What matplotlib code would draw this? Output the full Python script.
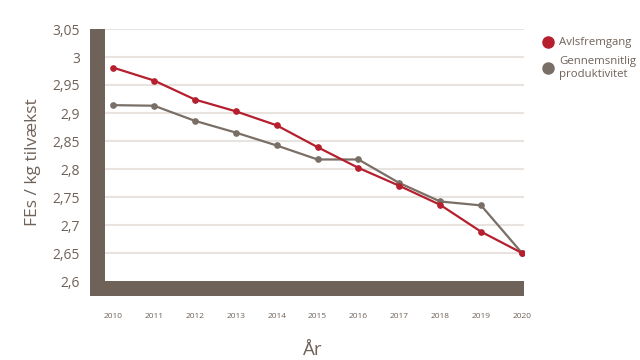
import matplotlib
matplotlib.use("Agg")
import matplotlib.pyplot as plt
from matplotlib.lines import Line2D
from matplotlib.patches import Rectangle

plt.rcParams['font.family'] = ['Open Sans', 'DejaVu Sans']

# data
years = [2010, 2011, 2012, 2013, 2014, 2015, 2016, 2017, 2018, 2019, 2020]
avlsfremgang = [2.981, 2.958, 2.924, 2.903, 2.878, 2.839, 2.802, 2.770, 2.736, 2.688, 2.650]
produktivitet = [2.914, 2.913, 2.886, 2.865, 2.842, 2.817, 2.817, 2.775, 2.742, 2.735, 2.650]
y_ticks = [2.6, 2.65, 2.7, 2.75, 2.8, 2.85, 2.9, 2.95, 3.0, 3.05]
y_labels = ["2,6", "2,65", "2,7", "2,75", "2,8", "2,85", "2,9", "2,95", "3", "3,05"]

BROWN = "#6f6259"
GRAY = "#7a6f67"
RED = "#b51f2e"
GRID = "#e8e3de"

W, H = 640, 360
fig = plt.figure(figsize=(6.4, 3.6), dpi=100)


def fx(px):
    return px / W


def fy(py):
    return 1 - py / H


ax = fig.add_axes([fx(105), fy(281), fx(524) - fx(105), fy(29) - fy(281)])
ax.set_xlim(2009.8, 2020.05)
ax.set_ylim(2.6, 3.047)

for t in y_ticks[1:]:
    ax.axhline(t, color=GRID, lw=1.5, zorder=0)

ax.plot(years, produktivitet, color=GRAY, lw=1.6, marker="o", ms=3.8, zorder=3)
ax.plot(years, avlsfremgang, color=RED, lw=1.6, marker="o", ms=3.8, zorder=4)

ax.set_xticks(years)
ax.set_xticklabels([str(y) for y in years], fontsize=6, color=BROWN)
ax.set_yticks(y_ticks)
ax.set_yticklabels(y_labels, fontsize=10, color=BROWN)
ax.tick_params(axis="both", length=0)
ax.tick_params(axis="x", pad=23)
ax.tick_params(axis="y", pad=18)
for s in ax.spines.values():
    s.set_visible(False)

# thick brown axis bars
fig.add_artist(Rectangle((fx(90), fy(296)), fx(105) - fx(90), fy(29) - fy(296),
                         transform=fig.transFigure, color=BROWN, lw=0))
fig.add_artist(Rectangle((fx(90), fy(296)), fx(524) - fx(90), fy(281) - fy(296),
                         transform=fig.transFigure, color=BROWN, lw=0))

fig.text(fx(33), fy(162), "FEs / kg tilvækst", rotation=90, ha="center", va="center",
         fontsize=12.5, color=BROWN)
fig.text(fx(313), fy(350), "År", ha="center", va="center", fontsize=13.5, color=BROWN)

# legend
fig.add_artist(Line2D([fx(548)], [fy(42)], marker="o", ms=8, color=RED,
                      transform=fig.transFigure))
fig.add_artist(Line2D([fx(548)], [fy(68)], marker="o", ms=8, color=GRAY,
                      transform=fig.transFigure))
fig.text(fx(559), fy(42), "Avlsfremgang", ha="left", va="center", fontsize=8.2, color=BROWN)
fig.text(fx(559), fy(68), "Gennemsnitlig\nproduktivitet", ha="left", va="center",
         fontsize=8.2, color=BROWN, linespacing=1.2)

fig.savefig("out.png", dpi=100)
